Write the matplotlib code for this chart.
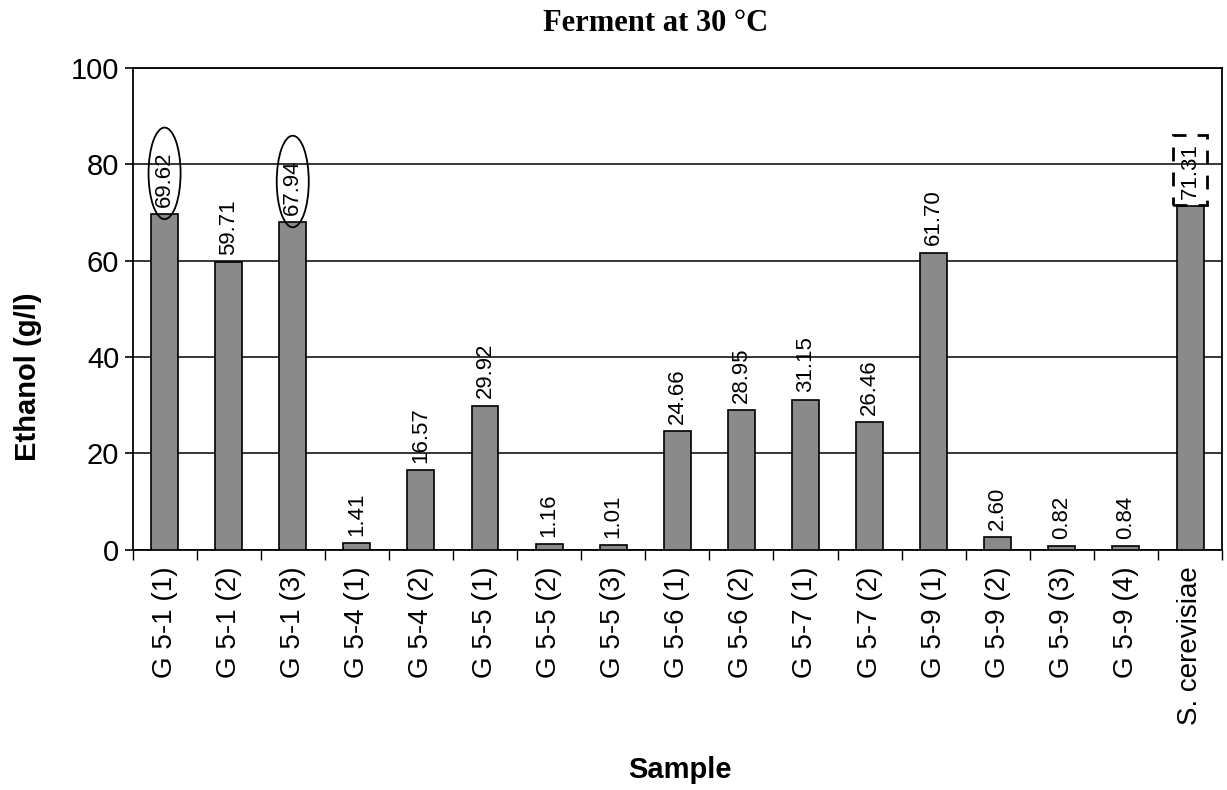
import numpy as np
import matplotlib.pyplot as plt
from matplotlib.patches import Ellipse, Rectangle

samples = ['G 5-1 (1)', 'G 5-1 (2)', 'G 5-1 (3)', 'G 5-4 (1)', 'G 5-4 (2)',
           'G 5-5 (1)', 'G 5-5 (2)', 'G 5-5 (3)', 'G 5-6 (1)', 'G 5-6 (2)',
           'G 5-7 (1)', 'G 5-7 (2)', 'G 5-9 (1)', 'G 5-9 (2)', 'G 5-9 (3)',
           'G 5-9 (4)', 'S. cerevisiae']
ethanol = [69.62, 59.71, 67.94, 1.41, 16.57, 29.92, 1.16, 1.01, 24.66, 28.95,
           31.15, 26.46, 61.70, 2.60, 0.82, 0.84, 71.31]
circled = [0, 2]
boxed = [16]

plt.rcParams['font.family'] = ['Liberation Sans', 'DejaVu Sans']

fig = plt.figure(figsize=(12.27, 7.9), dpi=100)
ax = fig.add_axes([0.108, 0.304, 0.888, 0.610])

x = np.arange(len(samples))
ax.bar(x, ethanol, width=0.42, color='#8a8a8a', edgecolor='black',
       linewidth=1.2, zorder=3)

for xi, v in zip(x, ethanol):
    ax.text(xi, v + 1.5, f'{v:.2f}', rotation=90, ha='center', va='bottom',
            fontsize=16, zorder=4)

# circled values
for i in circled:
    ax.add_patch(Ellipse((x[i], ethanol[i] + 8.5), 0.5, 19.0, fill=False,
                         edgecolor='black', linewidth=1.3, zorder=5))
# dashed box round the reference strain
for i in boxed:
    ax.add_patch(Rectangle((x[i] - 0.27, ethanol[i] + 0.3), 0.54, 14.5,
                           fill=False, edgecolor='black', linewidth=2.0,
                           linestyle=(0, (5, 4)), zorder=5))

ax.set_xlim(-0.5, len(samples) - 0.5)
ax.set_ylim(0, 100)
ax.set_yticks([0, 20, 40, 60, 80, 100])
ax.tick_params(axis='y', labelsize=21, length=6, width=1.2)
ax.set_xticks(x)
ax.set_xticklabels(samples, rotation=90, fontsize=20)
ax.tick_params(axis='x', length=0, pad=12)
ax.set_xticks(np.arange(-0.5, len(samples), 1.0), minor=True)
ax.tick_params(axis='x', which='minor', length=7, width=1.0)

ax.grid(axis='y', color='black', linewidth=1.1, zorder=0)
for s in ax.spines.values():
    s.set_linewidth(1.3)

fig.text(0.534, 0.97, 'Ferment at 30 °C', fontsize=22, fontweight='bold',
         family='Liberation Serif', ha='center', va='center')
ax.set_ylabel('Ethanol (g/l)', fontsize=21, fontweight='bold')
ax.yaxis.set_label_coords(-0.083, 0.36)
fig.text(0.554, 0.025, 'Sample', fontsize=21, fontweight='bold',
         ha='center', va='center')

fig.savefig('out.png', dpi=100)
